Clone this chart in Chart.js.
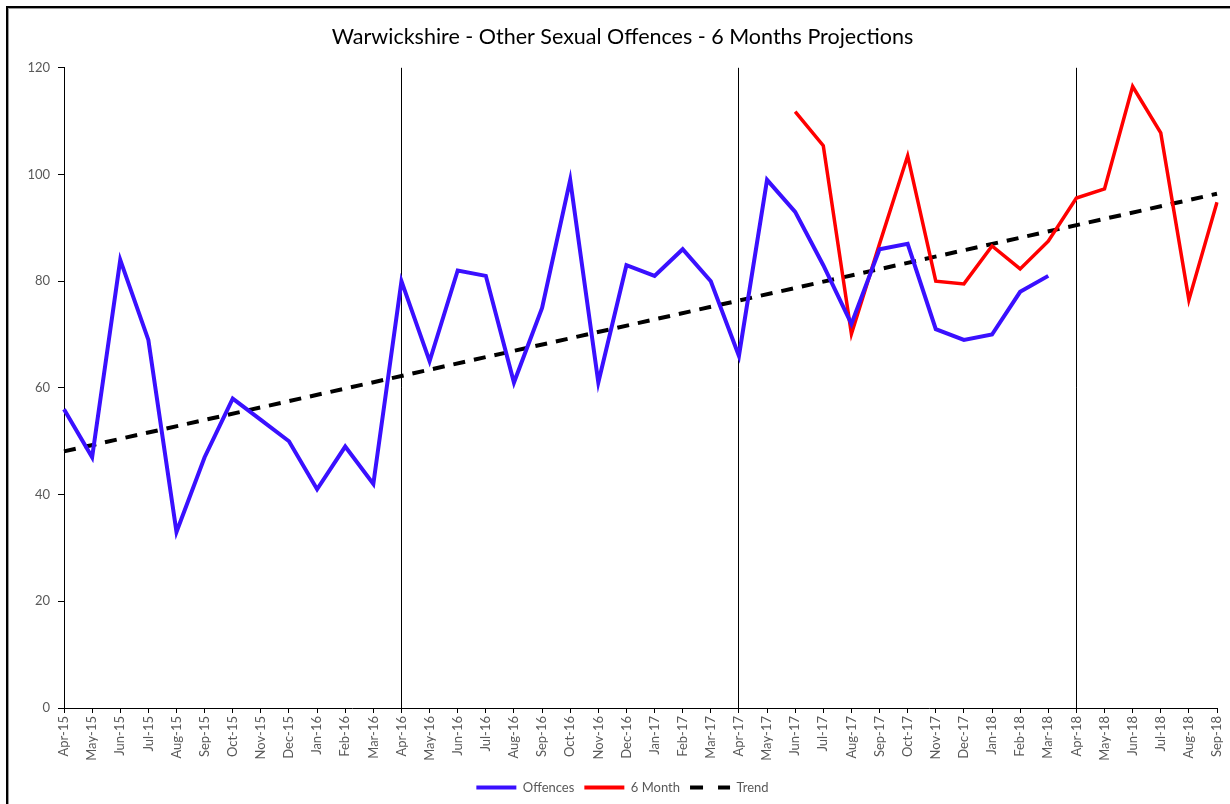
<!DOCTYPE html>
<html lang="en">
<head>
  <meta charset="UTF-8">
  <title>Warwickshire - Other Sexual Offences - 6 Months Projections</title>
  <script src="https://cdn.jsdelivr.net/npm/chart.js"></script>
  <style>
    html, body { margin: 0; padding: 0; background: #fff; }
    #wrap { position: relative; width: 1230px; height: 804px; overflow: hidden; }
    #frame {
      position: absolute; left: 6px; top: 6px; width: 1240px; height: 820px;
      border: 2px solid #000; box-shadow: 1px 1px 0 #999 inset;
    }
    #chart { position: absolute; left: 0; top: 0; }
  </style>
</head>
<body>
  <div id="wrap">
    <div id="frame"></div>
    <canvas id="chart" width="1230" height="804"></canvas>
  </div>

  <script>
    // month labels, Apr-15 .. Sep-18
    const months = [
      'Apr-15', 'May-15', 'Jun-15', 'Jul-15', 'Aug-15', 'Sep-15', 'Oct-15', 'Nov-15', 'Dec-15', 'Jan-16', 'Feb-16', 'Mar-16',
      'Apr-16', 'May-16', 'Jun-16', 'Jul-16', 'Aug-16', 'Sep-16', 'Oct-16', 'Nov-16', 'Dec-16', 'Jan-17', 'Feb-17', 'Mar-17',
      'Apr-17', 'May-17', 'Jun-17', 'Jul-17', 'Aug-17', 'Sep-17', 'Oct-17', 'Nov-17', 'Dec-17', 'Jan-18', 'Feb-18', 'Mar-18',
      'Apr-18', 'May-18', 'Jun-18', 'Jul-18', 'Aug-18', 'Sep-18'
    ];

    // recorded offences (Apr-15 .. Mar-18)
    const offences = [
      56, 47, 84, 69, 33, 47, 58, 54, 50, 41, 49, 42,
      80, 65, 82, 81, 61, 75, 99, 61, 83, 81, 86, 80,
      66, 99, 93, 83, 72, 86, 87, 71, 69, 70, 78, 81,
      null, null, null, null, null, null
    ];

    // 6 month projection (Jun-17 .. Sep-18)
    const sixMonth = [
      null, null, null, null, null, null, null, null, null, null, null, null,
      null, null, null, null, null, null, null, null, null, null, null, null,
      null, null, 111.8, 105.4, 70.1, 87, 103.5, 80, 79.5, 86.6, 82.3, 87.5,
      95.6, 97.3, 116.5, 107.8, 76.5, 94.8
    ];

    // trend line: start and end values only
    const trend = months.map(() => null);
    trend[0] = 48.1;
    trend[months.length - 1] = 96.4;

    // year boundaries get a vertical line
    const yearStarts = ['Apr-16', 'Apr-17', 'Apr-18'];

    const yTicks = [0, 20, 40, 60, 80, 100, 120];

    const grey = '#595959';
    const font = 'Lato, "Open Sans", sans-serif';

    new Chart(document.getElementById('chart'), {
      type: 'line',
      data: {
        labels: months,
        datasets: [
          {
            label: 'Offences',
            data: offences,
            borderColor: '#3A10FF',
            backgroundColor: '#3A10FF',
            borderWidth: 4,
            pointRadius: 0,
            tension: 0
          },
          {
            label: '6 Month',
            data: sixMonth,
            borderColor: '#FF0000',
            backgroundColor: '#FF0000',
            borderWidth: 3.5,
            pointRadius: 0,
            tension: 0
          },
          {
            label: 'Trend',
            data: trend,
            borderColor: '#000',
            backgroundColor: '#000',
            borderWidth: 4,
            borderDash: [12, 9],
            pointRadius: 0,
            spanGaps: true
          }
        ]
      },
      options: {
        responsive: false,
        animation: false,
        // wider left padding + narrower y axis keeps plot at x=64 but centres title like the original
        layout: { padding: { left: 28, right: 13, top: 0, bottom: 0 } },
        plugins: {
          title: {
            display: true,
            text: 'Warwickshire - Other Sexual Offences - 6 Months Projections',
            color: '#000',
            font: { family: font, size: 21.5, weight: 'normal' },
            padding: { top: 24, bottom: 18 }
          },
          legend: {
            position: 'bottom',
            labels: {
              color: grey,
              font: { family: font, size: 13 },
              usePointStyle: true,
              pointStyleWidth: 40,
              padding: 10,
              // legend lines need the dataset's dash and width
              generateLabels: (chart) => chart.data.datasets.map((ds, i) => ({
                text: ds.label,
                datasetIndex: i,
                pointStyle: 'line',
                strokeStyle: ds.borderColor,
                fillStyle: ds.borderColor,
                fontColor: grey,
                lineWidth: 4,
                lineDash: ds.borderDash ? [13, 15] : [],
                lineCap: 'butt',
                hidden: false
              }))
            }
          },
          tooltip: { enabled: false }
        },
        scales: {
          x: {
            afterFit: (scale) => {
              scale.height = 63;
              scale.paddingRight = 0;
              scale.paddingLeft = 0;
            },
            border: { color: '#000', width: 1 },
            grid: {
              drawOnChartArea: true,
              tickLength: 5,
              tickColor: '#000',
              color: (ctx) => {
                const lbl = ctx.tick ? months[ctx.tick.value] : null;
                return yearStarts.includes(lbl) ? '#000' : 'rgba(0,0,0,0)';
              }
            },
            ticks: {
              autoSkip: false,
              maxRotation: 90,
              minRotation: 90,
              padding: 3,
              color: grey,
              font: { family: font, size: 13 }
            }
          },
          y: {
            min: 0,
            max: 120,
            afterFit: (scale) => { scale.width = 36; },
            afterBuildTicks: (scale) => { scale.ticks = yTicks.map(v => ({ value: v })); },
            border: { color: '#000', width: 1 },
            grid: {
              drawOnChartArea: false,
              tickLength: 6,
              tickColor: '#000'
            },
            ticks: {
              padding: 8,
              color: grey,
              font: { family: font, size: 13 }
            }
          }
        }
      }
    });
  </script>
</body>
</html>
